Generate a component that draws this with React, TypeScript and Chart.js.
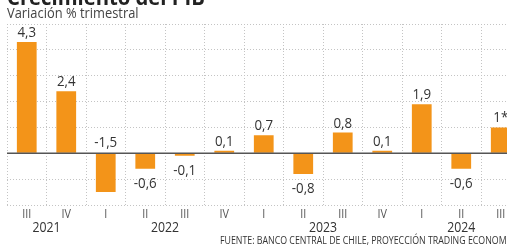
import { useEffect, useRef } from "react";
import { Chart, registerables } from "chart.js";

Chart.register(...registerables);

const quarters = ["III", "IV", "I", "II", "III", "IV", "I", "II", "III", "IV", "I", "II", "III"];
const growth = [4.3, 2.4, -1.5, -0.6, -0.1, 0.1, 0.7, -0.8, 0.8, 0.1, 1.9, -0.6, 1.0];
const valueLabels = ["4,3", "2,4", "-1,5", "-0,6", "-0,1", "0,1", "0,7", "-0,8", "0,8", "0,1", "1,9", "-0,6", "1*"];
const years = ["2021", "2022", "2023", "2024"];
const yearFirstIdx = [0, 2, 6, 10];
const yearLastIdx = [1, 5, 9, 12];
const yMin = -2;
const yMax = 5;

const title = "Crecimiento del PIB";
const subtitle = "Variación % trimestral";
const source = "FUENTE: BANCO CENTRAL DE CHILE, PROYECCIÓN TRADING ECONOMICS";

const FONT = "'Open Sans', 'Noto Sans', sans-serif";
const BAR = "#F39419";

function drawText(
  ctx: CanvasRenderingContext2D,
  s: string,
  x: number,
  y: number,
  font: string,
  color: string,
  align: CanvasTextAlign,
  sx = 1
) {
  ctx.save();
  ctx.font = font;
  ctx.fillStyle = color;
  ctx.textAlign = align;
  ctx.textBaseline = "alphabetic";
  ctx.translate(x, y);
  ctx.scale(sx, 1);
  ctx.fillText(s, 0, 0);
  ctx.restore();
}

const overlay = {
  id: "overlay",
  afterDatasetsDraw(chart: any) {
    const ctx: CanvasRenderingContext2D = chart.ctx;
    const xs = chart.scales.x;
    const ys = chart.scales.y;
    const area = chart.chartArea;
    const y0 = ys.getPixelForValue(0);

    // zero line
    ctx.save();
    ctx.strokeStyle = "#555555";
    ctx.lineWidth = 1.5;
    ctx.beginPath();
    ctx.moveTo(area.left, y0);
    ctx.lineTo(area.right, y0);
    ctx.stroke();
    ctx.restore();

    const valueFont = `14px ${FONT}`;
    growth.forEach((v, i) => {
      const x = xs.getPixelForValue(i);
      const yv = ys.getPixelForValue(v);
      let y: number;
      if (v >= 0) y = yv - 5;
      else if (v < -1) y = y0 - 6;
      else y = yv + 19.5;
      drawText(ctx, valueLabels[i], x, y, valueFont, "#333333", "center", 0.95);
    });

    quarters.forEach((q, i) => {
      const x = xs.getPixelForValue(i);
      drawText(ctx, q, x, 218, `12px ${FONT}`, "#555555", "center", 0.9);
    });

    years.forEach((yr, k) => {
      const x = (xs.getPixelForValue(yearFirstIdx[k]) + xs.getPixelForValue(yearLastIdx[k])) / 2;
      drawText(ctx, yr, x, 232, `14px ${FONT}`, "#333333", "center", 0.88);
    });

    drawText(ctx, title, 7, 5, `bold 22px ${FONT}`, "#222222", "left", 0.92);
    drawText(ctx, subtitle, 7, 18, `14px ${FONT}`, "#444444", "left", 0.92);
    drawText(ctx, source, 220, 244, `10px ${FONT}`, "#333333", "left", 0.88);
  },
};

export default function App() {
  const ref = useRef<HTMLCanvasElement | null>(null);

  useEffect(() => {
    if (!ref.current) return;
    const chart = new Chart(ref.current, {
      type: "bar",
      data: {
        labels: quarters,
        datasets: [
          {
            data: growth,
            backgroundColor: BAR,
            borderWidth: 0,
            barPercentage: 0.5,
            categoryPercentage: 1,
          },
        ],
      },
      options: {
        responsive: false,
        animation: false,
        devicePixelRatio: 1,
        layout: { padding: { left: 7, top: 24, right: 9.5, bottom: 41 } },
        plugins: { legend: { display: false }, tooltip: { enabled: false } },
        scales: {
          x: {
            ticks: { display: false },
            grid: { color: "#c4c4c4", lineWidth: 1, drawTicks: false, offset: true },
            border: { display: false, dash: [1, 2] },
          },
          y: {
            min: yMin,
            max: yMax,
            ticks: { display: false, stepSize: 1 },
            grid: {
              color: (c: any) => (c.tick && c.tick.value === 0 ? "rgba(0,0,0,0)" : "#c4c4c4"),
              lineWidth: 1,
              drawTicks: false,
            },
            border: { display: false, dash: [1, 2] },
          },
        },
      },
      plugins: [overlay],
    });
    return () => chart.destroy();
  }, []);

  return (
    <div style={{ position: "fixed", left: 0, top: 0, width: 507, height: 246, overflow: "hidden", background: "#fff" }}>
      <canvas ref={ref} width={530} height={246} style={{ display: "block", width: 530, height: 246 }} />
    </div>
  );
}
